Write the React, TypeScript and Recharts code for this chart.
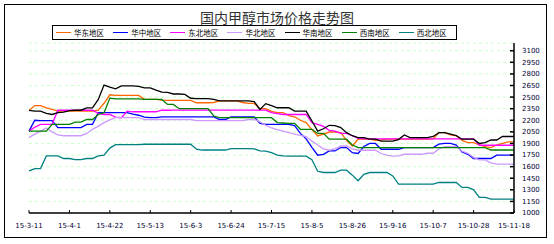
import React from "react";
import { LineChart, Line, XAxis, YAxis, CartesianGrid } from "recharts";

// sampling grid: days since 2015-03-11
const days = [
  0, 3, 6, 9, 12, 15, 18, 21, 24, 27, 30, 33, 36, 39, 42, 45, 48, 51, 54, 57,
  60, 63, 66, 69, 72, 75, 78, 81, 84, 87, 90, 93, 96, 99, 102, 105, 108, 111, 114, 117,
  120, 123, 126, 129, 132, 135, 138, 141, 144, 147, 150, 153, 156, 159, 162, 165, 168, 171, 174, 177,
  180, 183, 186, 189, 192, 195, 198, 201, 204, 207, 210, 213, 216, 219, 222, 225, 228, 231, 234, 237,
  240, 243, 246, 249, 252,
];

const xTicks = [0, 21, 42, 63, 84, 105, 126, 147, 168, 189, 210, 231, 252];
const xLabels = [
  "15-3-11", "15-4-1", "15-4-22", "15-5-13", "15-6-3", "15-6-24", "15-7-15",
  "15-8-5", "15-8-26", "15-9-16", "15-10-7", "15-10-28", "15-11-18",
];
const yTicks = [1000, 1150, 1300, 1450, 1600, 1750, 1900, 2050, 2200, 2350, 2500, 2650, 2800, 2950, 3100];

const seriesNames = ["华东地区", "华中地区", "东北地区", "华北地区", "华南地区", "西南地区", "西北地区"];

const eastChina = [
  2328, 2390, 2390, 2360, 2340, 2318, 2318, 2318, 2318, 2318,
  2318, 2318, 2330, 2420, 2530, 2521, 2521, 2521, 2521, 2521,
  2470, 2470, 2470, 2460, 2457, 2457, 2457, 2457, 2457, 2427,
  2427, 2427, 2430, 2450, 2450, 2450, 2450, 2430, 2418, 2418,
  2350, 2350, 2315, 2298, 2298, 2260, 2245, 2200, 2170, 2080,
  1997, 2020, 2048, 2048, 2040, 1940, 1867, 1955, 1955, 1955,
  1940, 1945, 1955, 1955, 1955, 1955, 1955, 1955, 1955, 1955,
  1960, 2040, 2040, 2010, 2000, 1940, 1912, 1912, 1880, 1860,
  1847, 1880, 1900, 1920, 1920,
];
const centralChina = [
  2060, 2200, 2195, 2195, 2195, 2105, 2105, 2105, 2105, 2105,
  2147, 2147, 2298, 2298, 2298, 2298, 2298, 2298, 2280, 2265,
  2240, 2233, 2233, 2245, 2245, 2245, 2245, 2245, 2245, 2245,
  2245, 2245, 2245, 2210, 2210, 2245, 2245, 2245, 2245, 2245,
  2160, 2147, 2147, 2147, 2147, 2147, 2130, 2030, 1960, 1850,
  1748, 1760, 1803, 1803, 1847, 1847, 1780, 1770, 1860, 1900,
  1900, 1825, 1825, 1825, 1825, 1847, 1847, 1847, 1847, 1847,
  1847, 1890, 1900, 1900, 1880, 1790, 1760, 1705, 1705, 1705,
  1705, 1748, 1748, 1748, 1748,
];
const northeast = [
  2060, 2110, 2147, 2147, 2147, 2330, 2330, 2330, 2330, 2330,
  2330, 2330, 2290, 2275, 2275, 2240, 2233, 2318, 2310, 2310,
  2310, 2310, 2310, 2330, 2330, 2332, 2332, 2332, 2332, 2332,
  2332, 2332, 2332, 2332, 2332, 2332, 2332, 2332, 2332, 2332,
  2332, 2332, 2298, 2285, 2275, 2275, 2275, 2275, 2275, 2170,
  2147, 2120, 2070, 2060, 2030, 2030, 2000, 1965, 1960, 1960,
  1960, 1960, 1960, 1960, 1960, 1960, 1960, 1960, 1960, 1960,
  1960, 1960, 1960, 1960, 1960, 1960, 1960, 1960, 1877, 1877,
  1877, 1877, 1877, 1877, 1877,
];
const northChina = [
  1975, 2020, 2060, 2100, 2050, 2010, 2000, 2000, 2000, 2000,
  2030, 2083, 2125, 2170, 2205, 2233, 2233, 2233, 2233, 2233,
  2210, 2210, 2210, 2210, 2210, 2210, 2210, 2210, 2210, 2195,
  2195, 2195, 2195, 2195, 2195, 2195, 2195, 2195, 2210, 2210,
  2180, 2135, 2100, 2080, 2060, 2040, 2020, 2005, 1990, 1930,
  1880, 1830, 1812, 1830, 1867, 1867, 1830, 1812, 1812, 1812,
  1812, 1770, 1748, 1735, 1740, 1760, 1760, 1760, 1760, 1773,
  1773, 1830, 1860, 1860, 1860, 1800, 1773, 1720, 1687, 1687,
  1650, 1632, 1632, 1632, 1632,
];
const southChina = [
  2328, 2318, 2318, 2290, 2275, 2300, 2305, 2325, 2330, 2330,
  2360, 2360, 2470, 2655, 2630, 2607, 2645, 2645, 2645, 2640,
  2620, 2620, 2590, 2565, 2560, 2540, 2540, 2535, 2485, 2480,
  2480, 2480, 2470, 2450, 2450, 2450, 2450, 2450, 2450, 2440,
  2340, 2415, 2390, 2362, 2362, 2362, 2318, 2318, 2318, 2190,
  2060, 2090, 2135, 2130, 2105, 2040, 2000, 1975, 1975, 1955,
  1955, 1930, 1930, 1930, 1950, 2010, 1975, 1975, 1975, 1975,
  1990, 2040, 2040, 2020, 2000, 1955, 1955, 1955, 1900, 1910,
  1945, 1945, 1990, 1990, 1990,
];
const southwest = [
  2060, 2060, 2060, 2060, 2147, 2147, 2147, 2147, 2177, 2177,
  2210, 2210, 2275, 2298, 2487, 2478, 2478, 2478, 2478, 2478,
  2470, 2470, 2470, 2470, 2405, 2405, 2350, 2350, 2350, 2350,
  2350, 2350, 2255, 2233, 2233, 2233, 2233, 2233, 2233, 2233,
  2233, 2233, 2233, 2170, 2165, 2160, 2160, 2083, 2083, 2083,
  2030, 2030, 1955, 1955, 1955, 1955, 1880, 1847, 1847, 1847,
  1847, 1847, 1847, 1847, 1847, 1847, 1847, 1847, 1847, 1847,
  1847, 1847, 1847, 1847, 1847, 1847, 1847, 1847, 1847, 1847,
  1815, 1815, 1815, 1815, 1815,
];
const northwest = [
  1545, 1575, 1575, 1738, 1738, 1738, 1705, 1705, 1690, 1690,
  1705, 1705, 1740, 1748, 1840, 1885, 1885, 1885, 1885, 1885,
  1890, 1890, 1890, 1890, 1890, 1890, 1890, 1890, 1890, 1825,
  1815, 1815, 1815, 1815, 1815, 1833, 1833, 1833, 1833, 1830,
  1803, 1800, 1782, 1750, 1738, 1735, 1735, 1735, 1735, 1690,
  1540, 1524, 1524, 1524, 1554, 1554, 1490, 1417, 1500, 1524,
  1524, 1524, 1524, 1480, 1374, 1374, 1374, 1374, 1374, 1374,
  1374, 1395, 1395, 1395, 1395, 1331, 1331, 1300, 1202, 1202,
  1180, 1180, 1180, 1180, 1180,
];

const seriesValues = [eastChina, centralChina, northeast, northChina, southChina, southwest, northwest];
const colors = ["#ff6600", "#0000ff", "#ff00ff", "#cc99ff", "#000000", "#008000", "#008080"];

const rows = days.map((d, i) => {
  const row: Record<string, number> = { day: d };
  seriesValues.forEach((vals, s) => {
    row["s" + s] = vals[i];
  });
  return row;
});

const numFont = "'DejaVu Sans', sans-serif";
const cjkFont = "'Noto Sans CJK SC', sans-serif";

const YTick = (props: any) => {
  const { x, y, payload } = props;
  return (
    <g>
      <line x1={x - 12} x2={x - 8} y1={y} y2={y} stroke="#000" strokeWidth={1.5} />
      <text x={x} y={y} dy="0.35em" fontSize={7} fill="#000033" fontFamily={numFont}>
        {payload.value}
      </text>
    </g>
  );
};

const XTick = (props: any) => {
  const { x, y, payload } = props;
  const idx = xTicks.indexOf(payload.value);
  return (
    <g>
      <line x1={x} x2={x} y1={y - 3} y2={y} stroke="#000" strokeWidth={1} />
      <text x={x} y={y + 13} dy="0.35em" textAnchor="middle" fontSize={7} fill="#000033" fontFamily={numFont}>
        {xLabels[idx]}
      </text>
    </g>
  );
};

export default function App() {
  return (
    <div style={{ position: "absolute", left: 0, top: 0, width: 554, height: 244, background: "#fff" }}>
      <div
        style={{
          position: "absolute", left: 4, top: 4, width: 543, height: 234,
          border: "1px solid #000", boxSizing: "border-box",
        }}
      />
      <div
        style={{
          position: "absolute", left: 0, top: 9, width: 554, textAlign: "center",
          fontFamily: cjkFont, fontSize: 14, lineHeight: "16px", color: "#333",
        }}
      >
        国内甲醇市场价格走势图
      </div>
      <div
        style={{
          position: "absolute", left: 52, top: 25, width: 405, height: 15,
          border: "1px solid #000", boxSizing: "border-box", display: "flex",
          alignItems: "center", paddingLeft: 3,
        }}
      >
        {seriesNames.map((name, i) => (
          <div key={name} style={{ width: 58, display: "flex", alignItems: "center" }}>
            <div style={{ width: 15, height: 1.5, background: colors[i], marginRight: 3 }} />
            <span style={{ fontFamily: cjkFont, fontSize: 7.5, lineHeight: "10px", color: "#000" }}>{name}</span>
          </div>
        ))}
      </div>
      <div style={{ position: "absolute", left: 0, top: 0 }}>
        <LineChart width={554} height={244} data={rows} margin={{ top: 43, right: 0, bottom: 10, left: 29 }}>
          <CartesianGrid vertical={false} stroke="#ccffcc" strokeDasharray="3 3" />
          <XAxis
            dataKey="day"
            type="number"
            domain={[0, 252]}
            ticks={xTicks}
            interval={0}
            height={21}
            axisLine={{ stroke: "#000", strokeWidth: 1.5 }}
            tickLine={false}
            tickSize={0}
            tickMargin={0}
            tick={<XTick />}
          />
          <YAxis
            orientation="right"
            domain={[1000, 3200]}
            ticks={yTicks}
            interval={0}
            width={40}
            axisLine={{ stroke: "#000", strokeWidth: 1.5 }}
            tickLine={false}
            tickSize={0}
            tickMargin={8}
            tick={<YTick />}
          />
          {seriesNames.map((name, i) => (
            <Line
              key={name}
              type="linear"
              dataKey={"s" + i}
              name={name}
              stroke={colors[i]}
              strokeWidth={1.3}
              dot={false}
              isAnimationActive={false}
            />
          ))}
        </LineChart>
      </div>
    </div>
  );
}
